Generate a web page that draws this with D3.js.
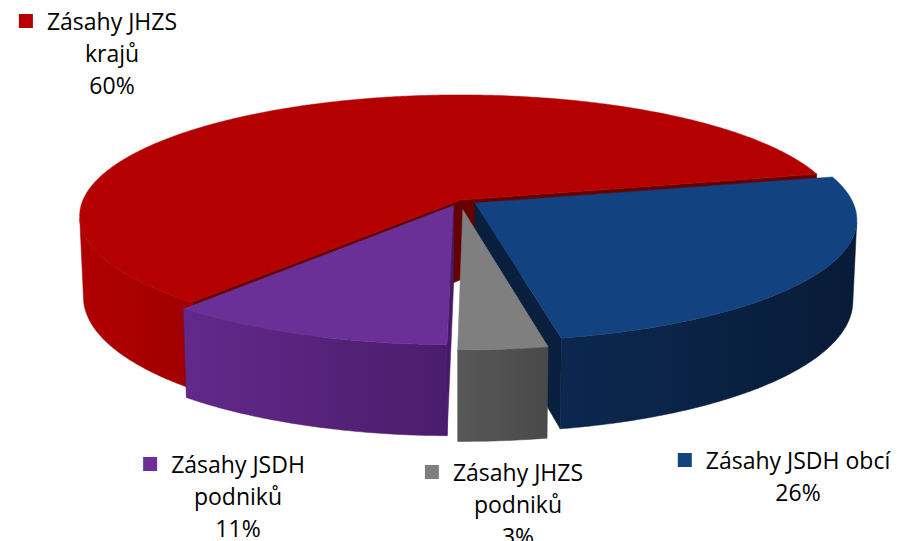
<!DOCTYPE html>
<html>
<head>
<meta charset="utf-8">
<script src="https://cdn.jsdelivr.net/npm/d3@7"></script>
<style>
  body { margin: 0; background: #fff; }
  svg { display: block; }
</style>
</head>
<body>
<div id="chart"></div>
<script>
// data
var categories = ["Zásahy JHZS krajů", "Zásahy JSDH obcí", "Zásahy JHZS podniků", "Zásahy JSDH podniků"];
var values = [60.4, 25.5, 3.3, 10.8];
var labelLines = [["Zásahy JHZS", "krajů"], ["Zásahy JSDH obcí"], ["Zásahy JHZS", "podniků"], ["Zásahy JSDH", "podniků"]];
var percentLabels = ["60%", "26%", "3%", "11%"];

// colours
var topColors  = ["#b40000", "#134281", "#7f7f7f", "#6b3097"];
var sideLight  = ["#b00000", "#0c2850", "#585858", "#62298b"];
var sideDark   = ["#a00000", "#081b37", "#494949", "#4b1c6b"];
var wallColors = ["#660000", "#0a1f3d", "#3c3c3c", "#461a66"];

var svgWidth = 897;
var svgHeight = 541;

var svg = d3.select("#chart")
    .append("svg")
    .attr("width", svgWidth)
    .attr("height", svgHeight);

var defs = svg.append("defs");

// 3D view settings (pie radius = 1)
var cx = 460, cy = 200;
var focal = 2703, dist = 7.17;
var tilt = 18.4 * Math.PI / 180;
var thick = 0.226;
var explodes = [0, 0.047, 0.08, 0.05];
var firstAngle = 219.6 * Math.PI / 180;

var cam = [0, dist * Math.sin(tilt), dist * Math.cos(tilt)];

function project(p) {
    var xc = p[0];
    var yc = p[1] * Math.cos(tilt) - p[2] * Math.sin(tilt);
    var zc = p[1] * Math.sin(tilt) + p[2] * Math.cos(tilt);
    var s = focal / (dist - zc);
    return [cx + xc * s, cy - yc * s];
}

function sub(a, b) { return [a[0] - b[0], a[1] - b[1], a[2] - b[2]]; }
function dot(a, b) { return a[0] * b[0] + a[1] * b[1] + a[2] * b[2]; }
function centroid(pts) {
    var c = [0, 0, 0];
    pts.forEach(function(p) { c[0] += p[0]; c[1] += p[1]; c[2] += p[2]; });
    return [c[0] / pts.length, c[1] / pts.length, c[2] / pts.length];
}

var pie = d3.pie()
    .sort(null)
    .value(function(d) { return d; })
    .startAngle(firstAngle)
    .endAngle(firstAngle + 2 * Math.PI);

var arcs = pie(values);

var walls = [];
var sides = [];
var tops = [];
var step = 0.5 * Math.PI / 180;

arcs.forEach(function(a, i) {
    var mid = (a.startAngle + a.endAngle) / 2;
    var ox = explodes[i] * Math.sin(mid), oz = -explodes[i] * Math.cos(mid);
    function rim(t, y) {
        return [ox + Math.sin(t), y, oz - Math.cos(t)];
    }
    var center = [ox, 0, oz], centerB = [ox, -thick, oz];
    var n = Math.ceil((a.endAngle - a.startAngle) / step);
    var angles = d3.range(n + 1).map(function(k) {
        return a.startAngle + (a.endAngle - a.startAngle) * k / n;
    });

    // top face
    tops.push({ pts: [center].concat(angles.map(function(t) { return rim(t, 0); })), color: topColors[i] });

    // curved outer side, split into runs that face the camera
    var runs = [], run = null;
    angles.forEach(function(t) {
        var normal = [Math.sin(t), 0, -Math.cos(t)];
        var ok = dot(normal, sub(cam, rim(t, -thick / 2))) > 0;
        if (ok) { if (!run) { run = []; runs.push(run); } run.push(t); }
        else run = null;
    });
    runs.forEach(function(r, j) {
        if (r.length < 2) return;
        var pts = r.map(function(t) { return rim(t, 0); })
            .concat(r.slice().reverse().map(function(t) { return rim(t, -thick); }));
        var xs = pts.map(function(p) { return project(p)[0]; });
        var id = "side" + i + "_" + j;
        var grad = defs.append("linearGradient")
            .attr("id", id)
            .attr("gradientUnits", "userSpaceOnUse")
            .attr("x1", d3.min(xs)).attr("x2", d3.max(xs))
            .attr("y1", 0).attr("y2", 0);
        grad.append("stop").attr("offset", 0).attr("stop-color", sideLight[i]);
        grad.append("stop").attr("offset", 1).attr("stop-color", sideDark[i]);
        sides.push({ pts: pts, color: "url(#" + id + ")", edge: sideDark[i] });
    });

    // radial walls
    [[a.startAngle, -1], [a.endAngle, 1]].forEach(function(w) {
        var t = w[0];
        var normal = [w[1] * Math.cos(t), 0, w[1] * Math.sin(t)];
        var pts = [center, rim(t, 0), rim(t, -thick), centerB];
        if (dot(normal, sub(cam, centroid(pts))) <= 0) return;
        walls.push({ pts: pts, color: wallColors[i], edge: wallColors[i] });
    });
});

// far walls first
walls.forEach(function(f) {
    var d = sub(cam, centroid(f.pts));
    f.depth = dot(d, d);
});
walls.sort(function(a, b) { return b.depth - a.depth; });

var line = d3.line();
function drawFaces(list, cls) {
    svg.append("g").attr("class", cls).selectAll("path")
        .data(list)
        .enter().append("path")
        .attr("d", function(f) { return line(f.pts.map(project)) + "Z"; })
        .attr("fill", function(f) { return f.color; })
        .attr("stroke", function(f) { return f.edge || f.color; })
        .attr("stroke-width", 0.5)
        .attr("stroke-linejoin", "round");
}
drawFaces(walls, "walls");
drawFaces(sides, "sides");
drawFaces(tops, "tops");

// data labels: text centre x, first baseline y
var labelPos = [[112, 30], [798, 469], [518, 481], [238, 473]];
var lineGap = 32;
var fontSize = 23;

var labels = svg.append("g")
    .attr("font-family", "'Open Sans', sans-serif")
    .attr("font-size", fontSize)
    .attr("fill", "#000");

categories.forEach(function(c, i) {
    var g = labels.append("g");
    var lines = labelLines[i].concat([percentLabels[i]]);
    var text = g.append("text")
        .attr("text-anchor", "middle");
    lines.forEach(function(l, j) {
        text.append("tspan")
            .attr("x", labelPos[i][0])
            .attr("y", labelPos[i][1] + j * lineGap)
            .text(l);
    });
    var w = text.select("tspan").node().getComputedTextLength();
    g.append("rect")
        .attr("x", labelPos[i][0] - w / 2 - 28)
        .attr("y", labelPos[i][1] - 16)
        .attr("width", 14)
        .attr("height", 14)
        .attr("fill", topColors[i]);
});
</script>
</body>
</html>
